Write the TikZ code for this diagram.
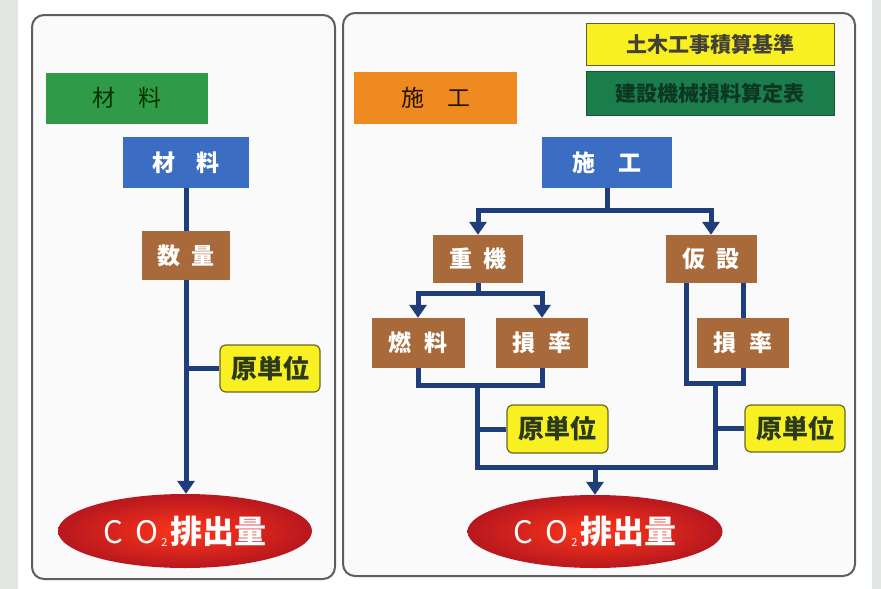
\documentclass[tikz,border=0pt]{standalone}
\usepackage{fontspec}
\setmainfont{Noto Sans CJK JP}
\usetikzlibrary{shapes.geometric,arrows.meta,calc}
\definecolor{bgstrip}{HTML}{E2E6E2}
\definecolor{panelline}{HTML}{5E5E5E}
\definecolor{panelfill}{HTML}{FAFAFA}
\definecolor{cgreen}{HTML}{2F9A47}
\definecolor{corange}{HTML}{EE8A1F}
\definecolor{cblue}{HTML}{3B6DC2}
\definecolor{cbrown}{HTML}{A86A3A}
\definecolor{cyellow}{HTML}{F8F020}
\definecolor{cdkgreen}{HTML}{1C7D4C}
\definecolor{cnavy}{HTML}{1E3D7A}
\definecolor{cred}{HTML}{CC1A22}
\definecolor{ytext}{HTML}{2A3A1A}
\tikzset{
  panel/.style={draw=panelline, line width=2pt, fill=panelfill, rounded corners=12pt},
  box/.style={rectangle, inner sep=0pt, font=\fontsize{23}{23}\selectfont\bfseries},
  bluebox/.style={box, fill=cblue, text=white, minimum width=128pt, minimum height=51pt},
  brownbox/.style={box, fill=cbrown, text=white, minimum width=91pt, minimum height=49pt},
  titlebox/.style={box, minimum width=162pt, minimum height=51pt, font=\fontsize{23}{23}\selectfont},
  genbox/.style={box, fill=cyellow, draw=olive!70!black, line width=1.2pt, rounded corners=6pt,
     text=ytext, minimum width=100pt, minimum height=47pt, font=\fontsize{26}{26}\selectfont\bfseries},
  refbox/.style={box, minimum width=248pt, font=\fontsize{21}{21}\selectfont\bfseries},
  co2/.style={ellipse, inner sep=0pt, inner color=red!75!orange!90!white, outer color=cred!90!black,
     text=white, minimum width=254pt, minimum height=74pt},
  conn/.style={draw=cnavy, line width=5pt, line join=miter},
  arr/.style={conn, -{Triangle[width=17pt,length=13pt]}},
}
\newcommand{\cotwo}{{\fontsize{31}{31}\selectfont C\hspace{12pt}O\hspace{3pt}\raisebox{-3pt}{\fontsize{11}{11}\selectfont 2}\hspace{3pt}\fontsize{32}{32}\selectfont\bfseries 排出量}}
\begin{document}
\begin{tikzpicture}[x=1pt,y=-1pt]
\useasboundingbox (0,0) rectangle (881,589);
\fill[bgstrip] (0,0) rectangle (881,589);
\fill[white] (18,0) rectangle (872,589);
% panels
\draw[panel] (32,15) rectangle (335,579);
\draw[panel] (343,13) rectangle (855,576);

% ---------- left panel ----------
\node[titlebox, fill=cgreen, text=black!80!green] (lgreen) at (127,98) {材\hspace{1em}料};
\node[bluebox, minimum width=126pt] (lblue) at (186,162.5) {材\hspace{0.9em}料};
\node[brownbox, minimum width=88pt] (suryo) at (186,255.5) {数\hspace{0.5em}量};
\node[genbox] (lgen) at (270,368.5) {原単位};
\node[co2] (lco2) at (185,531) {\cotwo};
\draw[conn] (lblue) -- (suryo);
\draw[arr] (suryo.south) -- (suryo.south |- lco2.north);
\draw[conn] (lgen.west) -- (lgen.west -| suryo.south);

% ---------- right panel ----------
\node[titlebox, fill=corange, text=black!85!orange, minimum width=163pt, minimum height=52pt] (rorange) at (435.5,98) {施\hspace{1em}工};
\node[refbox, fill=cyellow, draw=olive!60!black, line width=1pt, text=black!85!yellow, minimum height=42pt] (ytop) at (710,44) {土木工事積算基準};
\node[refbox, fill=cdkgreen, draw=cdkgreen!70!black, line width=1pt, text=black!55!cdkgreen, minimum height=44pt] (gtop) at (710,93) {建設機械損料算定表};

\node[bluebox, minimum width=130pt] (rblue) at (607,162.5) {施\hspace{1em}工};
\node[brownbox, minimum width=90pt, minimum height=48pt] (juki) at (478,259) {重\hspace{0.5em}機};
\node[brownbox, minimum height=48pt] (kasetsu) at (711,259) {仮\hspace{0.5em}設};
\node[brownbox, minimum width=93pt, minimum height=50pt] (nenryo) at (418,343) {燃\hspace{0.6em}料};
\node[brownbox, minimum width=92pt, minimum height=50pt] (sonL) at (542,343) {損\hspace{0.6em}率};
\node[brownbox, minimum width=92pt, minimum height=50pt] (sonR) at (743,343) {損\hspace{0.6em}率};
\node[genbox, minimum width=101pt, minimum height=48pt] (genM) at (557.5,429) {原単位};
\node[genbox] (genR) at (795,428.5) {原単位};
\node[co2, minimum width=255pt, minimum height=73pt] (rco2) at (595,531.5) {\cotwo};

% junction coordinates
\coordinate (s1) at (607,210);
\coordinate (s2) at (478,293);
\coordinate (j1) at (477,385);
\coordinate (j2) at (477,467);
\coordinate (j4) at (686,383);
\coordinate (j5) at (715,383);
\coordinate (j3) at (715,467);

% connectors
\draw[conn] (rblue) -- (s1);
\draw[arr] (s1) -| (juki);
\draw[arr] (s1) -| (kasetsu);
\draw[conn] (juki) -- (s2);
\draw[arr] (s2) -| (nenryo);
\draw[arr] (s2) -| (sonL);
\draw[conn] (nenryo) |- (j1) -| (sonL);
\draw[conn] (kasetsu.south -| sonR.north) -- (sonR.north);
\draw[conn] (kasetsu.south -| j4) -- (j4) -- (j4 -| sonR.south) -- (sonR.south);
\draw[conn] (j1) -- (j2) -- (j3) -- (j5);
\draw[conn] (genM.west) -- (genM.west -| j1);
\draw[conn] (genR.west) -- (genR.west -| j5);
\draw[arr] (j2 -| rco2.north) -- (rco2.north);
\end{tikzpicture}
\end{document}
